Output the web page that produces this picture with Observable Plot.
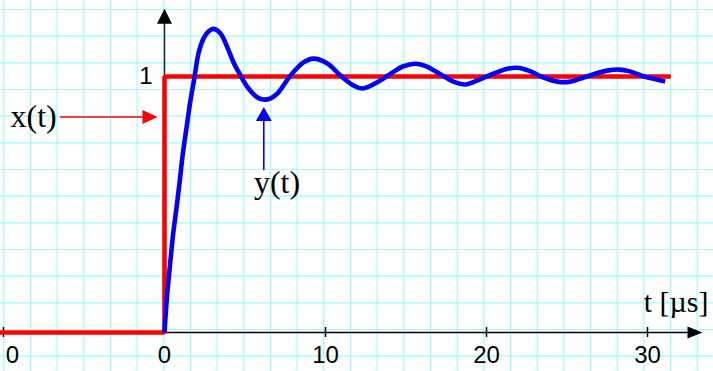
<!DOCTYPE html>
<html>
<head>
<meta charset="utf-8">
<script src="https://cdn.jsdelivr.net/npm/d3@7"></script>
<script src="https://cdn.jsdelivr.net/npm/@observablehq/plot@0.6"></script>
<style>
  html, body { margin: 0; padding: 0; background: white; }
  #chart { width: 713px; height: 371px; overflow: hidden; }
</style>
</head>
<body>
<div id="chart"></div>
<script>
// ---- data ----
// input step x(t)
const xT = [-10.3, 0, 0, 31.45];
const xV = [0, 0, 1, 1];
// response y(t)
const yT = [0, 0.17, 0.37, 0.54, 0.75, 0.95, 1.14, 1.37, 1.61, 1.86, 2.11, 2.42, 2.73, 3.06, 3.48, 3.91, 4.29, 4.72, 5.22, 5.78, 6.15, 6.6, 7.02, 7.83, 8.63, 9.25, 10.12, 10.93, 11.74, 12.3, 13.4, 14.2, 14.8, 15.6, 16.3, 17.1, 17.95, 18.7, 19.4, 20.4, 21.3, 21.9, 22.7, 23.5, 24.4, 25.1, 25.8, 26.6, 27.5, 28.2, 28.9, 29.8, 30.4, 31.1];
const yV = [0, 0.152, 0.281, 0.387, 0.488, 0.594, 0.699, 0.80, 0.906, 0.996, 1.09, 1.148, 1.176, 1.186, 1.168, 1.113, 1.055, 1.004, 0.953, 0.918, 0.910, 0.915, 0.934, 1.004, 1.055, 1.070, 1.051, 1.004, 0.965, 0.953, 0.984, 1.017, 1.039, 1.05, 1.039, 1.01, 0.98, 0.969, 0.984, 1.01, 1.03, 1.034, 1.021, 0.997, 0.98, 0.979, 0.991, 1.008, 1.023, 1.027, 1.02, 1.0, 0.991, 0.98];
// ticks and tick labels (the leftmost label shows only its last digit)
const xTicks = [-10, 10, 20, 30];
const xTickLabelAt = [-9.45, 0, 10, 20, 30];
const xTickLabels = ["0", "0", "10", "20", "30"];
const yTicks = [1];
const yTickLabels = ["1"];

// ---- tables ----
const xData = xT.map((t, i) => ({t, v: xV[i]}));
const yData = yT.map((t, i) => ({t, v: yV[i]}));

// ---- scale geometry ----
const W = 713, H = 371;
const pxPerT = 16.1, x0 = 164;     // t = 0 at 164px
const pxPerV = 256, y0 = 332;      // v = 0 at 332px
const tOf = px => (px - x0) / pxPerT;
const vOf = py => (y0 - py) / pxPerV;

// grid (square cells of ~26.67px)
const cell = 26.667;
const gridT = d3.range(0, 28).map(k => tOf(3.3 + cell * k));
const gridV = d3.range(0, 15).map(k => vOf(9 + cell * k));

// filled arrowhead symbols
const triRight = (len, half) => ({draw(c) { c.moveTo(0, 0); c.lineTo(-len, -half); c.lineTo(-len, half); c.closePath(); }});
const triUp = (len, half) => ({draw(c) { c.moveTo(0, 0); c.lineTo(-half, len); c.lineTo(half, len); c.closePath(); }});

const serif = "'Liberation Serif', 'Times New Roman', serif";
const sans = "'Liberation Sans', Arial, sans-serif";

const chart = Plot.plot({
  width: W,
  height: H,
  margin: 0,
  style: {background: "white", overflow: "hidden"},
  x: {domain: [tOf(0), tOf(W)], axis: null},
  y: {domain: [vOf(H), vOf(0)], axis: null},
  marks: [
    // grid
    Plot.ruleX(gridT, {stroke: "#9ff", strokeWidth: 1.2}),
    Plot.ruleY(gridV, {stroke: "#9ff", strokeWidth: 1.2}),
    // x axis with arrow
    Plot.ruleY([0], {x1: tOf(0), x2: tOf(688), stroke: "black", strokeWidth: 1.5}),
    Plot.dot([{t: tOf(702), v: 0}], {x: "t", y: "v", r: 5, symbol: triRight(15, 6), fill: "black", stroke: null}),
    Plot.ruleX(xTicks, {y1: vOf(337), y2: vOf(327), stroke: "black", strokeWidth: 1.5}),
    Plot.text(xTickLabelAt, {x: d => d, y: vOf(355), text: (d, i) => xTickLabels[i], fontSize: 24, fontFamily: sans, fill: "black", textAnchor: "middle", lineAnchor: "middle", style: "letter-spacing:1.5px"}),
    // y axis with arrow
    Plot.ruleX([0], {y1: 0, y2: vOf(22), stroke: "#222", strokeWidth: 1.5}),
    Plot.dot([{t: 0, v: vOf(8.3)}], {x: "t", y: "v", r: 5, symbol: triUp(15, 7.5), fill: "black", stroke: null}),
    Plot.text(yTicks, {x: tOf(152), y: d => d, text: (d, i) => yTickLabels[i], fontSize: 24, fontFamily: sans, fill: "black", textAnchor: "end", lineAnchor: "middle"}),
    // input x(t)
    Plot.line(xData, {x: "t", y: "v", stroke: "#ff0000", strokeWidth: 4.6, strokeLinejoin: "miter", strokeLinecap: "butt"}),
    // response y(t)
    Plot.line(yData, {x: "t", y: "v", stroke: "#0000ff", strokeWidth: 4.6, curve: "catmull-rom", strokeLinejoin: "round", strokeLinecap: "butt"}),
    // annotation x(t)
    Plot.ruleY([vOf(116.5)], {x1: tOf(60), x2: tOf(143), stroke: "#ff0000", strokeWidth: 1.6}),
    Plot.dot([{t: tOf(157), v: vOf(116.5)}], {x: "t", y: "v", r: 5, symbol: triRight(15, 7), fill: "#ff0000", stroke: null}),
    Plot.text(["x(t)"], {x: tOf(10), y: vOf(116), text: d => d, fontSize: 32, fontFamily: serif, fill: "black", textAnchor: "start", lineAnchor: "middle"}),
    // annotation y(t)
    Plot.ruleX([tOf(263.3)], {y1: vOf(170), y2: vOf(118), stroke: "#0000ff", strokeWidth: 1.6}),
    Plot.dot([{t: tOf(263.3), v: vOf(106.5)}], {x: "t", y: "v", r: 5, symbol: triUp(14, 8), fill: "#0000ff", stroke: null}),
    Plot.text(["y(t)"], {x: tOf(276.5), y: vOf(182), text: d => d, fontSize: 32, fontFamily: serif, fill: "black", textAnchor: "middle", lineAnchor: "middle"}),
    // axis title
    Plot.text(["t [µs]"], {x: tOf(708), y: vOf(302), text: d => d, fontSize: 30, fontFamily: serif, fill: "black", textAnchor: "end", lineAnchor: "middle"})
  ]
});
document.getElementById("chart").appendChild(chart);
</script>
</body>
</html>
